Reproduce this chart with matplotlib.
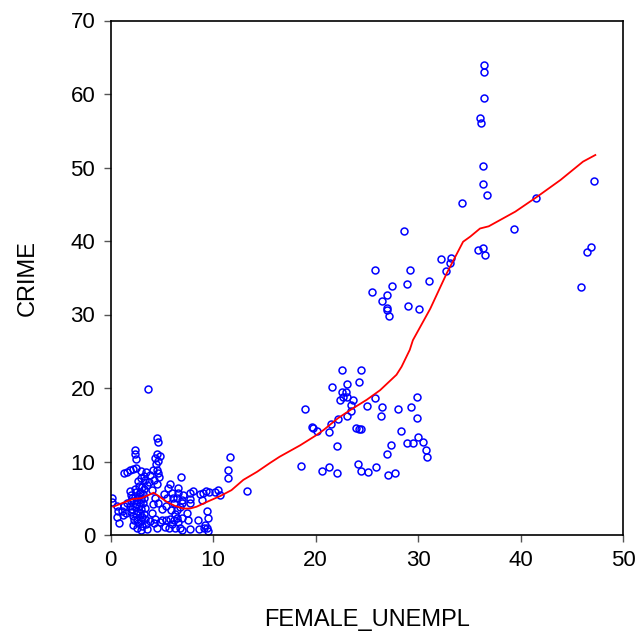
import matplotlib
matplotlib.use("Agg")
import matplotlib.pyplot as plt

# scatter data: (FEMALE_UNEMPL, CRIME)
cluster_pts = [
    (0.1,5.0),(0.15,4.5),(0.6,3.9),(0.75,3.2),(0.6,2.5),(0.8,1.6),(1.1,3.3),(1.2,2.7),(1.5,3.0),(1.3,4.0),(1.6,4.4),
    (1.3,8.4),(1.6,8.6),(1.9,8.8),(2.2,9.0),(2.5,9.1),
    (2.4,11.6),(2.35,11.0),(2.5,10.4),
    (1.9,6.0),(2.0,5.5),(2.1,5.0),(2.0,4.6),(1.9,4.0),(2.1,3.6),(2.0,3.1),(2.2,2.6),(2.3,2.0),(2.2,1.3),
    (2.4,6.3),(2.5,5.8),(2.4,5.2),(2.6,4.8),(2.5,4.2),(2.4,3.8),(2.6,3.3),(2.5,2.8),(2.6,2.2),(2.7,1.6),(2.6,1.0),
    (2.8,6.6),(2.9,5.9),(2.8,5.3),(3.0,4.9),(2.9,4.4),(2.8,3.9),(3.0,3.5),(2.9,3.0),(3.1,2.5),(3.0,1.9),(3.1,1.2),(3.0,0.7),
    (3.2,5.6),(3.3,5.0),(3.2,4.3),(3.4,3.7),(3.3,2.9),(3.4,2.2),(3.5,1.5),(3.6,0.8),
    (3.3,6.2),(3.1,6.5),
    (2.7,7.3),(3.0,7.7),(3.4,7.5),(3.8,7.2),(4.2,7.5),(4.5,7.0),(3.6,6.8),
    (3.0,8.7),(3.5,8.6),(3.9,8.2),(4.1,8.9),(3.3,8.0),
    (4.5,13.2),(4.65,12.6),(4.5,11.0),(4.8,10.8),(4.3,10.5),(4.6,10.1),(4.4,9.6),(4.5,8.9),(4.6,8.4),(4.7,7.9),
    (4.0,6.1),(4.3,5.0),(4.1,4.2),(4.6,4.3),(4.0,3.0),(4.3,2.2),(4.2,1.6),(4.5,1.0),(3.9,1.9),(4.8,1.8),
    (5.0,2.0),(5.4,2.1),(5.8,2.2),(6.2,2.0),(6.5,2.3),(5.3,1.1),(5.7,0.9),(6.0,1.5),(6.3,0.9),(6.8,1.0),
    (5.2,5.6),(5.5,5.0),(5.6,6.4),(5.0,3.6),(5.4,4.0),(5.8,6.9),(6.0,5.7),(6.1,5.0),(6.2,4.3),(5.9,3.4),
    (6.6,6.35),(6.6,5.7),(6.46,5.0),(6.8,3.85),(6.46,3.4),(7.1,5.4),(7.0,4.8),(6.95,4.3),(6.85,7.85),(6.95,2.3),(7.0,0.7),(6.6,1.8),(6.3,2.9),
    (8.0,6.0),(7.76,5.7),(7.76,4.86),(7.8,4.4),(7.6,2.1),(7.8,0.8),(7.5,3.0),
    (8.73,5.6),(9.0,5.75),(9.3,6.0),(9.64,5.9),(9.38,3.3),(9.55,2.3),(8.57,2.1),(8.66,0.8),(9.2,1.4),(9.4,0.9),(9.5,0.6),(9.1,1.0),(8.9,4.7),
    (10.46,6.1),(10.7,5.4),(11.66,10.6),(11.5,8.9),(11.43,7.7),(13.3,6.0),(10.2,5.8),
    (3.69,19.9),
]
mid_pts = [
    (22.6,22.5),(24.4,22.5),(24.2,20.8),(23.1,20.5),(21.6,20.1),(22.6,19.4),(23.0,19.4),(22.7,18.8),(23.1,18.8),
    (22.4,18.4),(23.7,18.3),(23.5,17.7),(23.5,16.9),(25.05,17.6),(25.8,18.7),(26.5,17.4),(26.4,16.2),(28.05,17.2),
    (29.3,17.4),(29.9,18.8),(29.9,15.9),(18.98,17.2),(23.1,16.2),(22.2,15.8),(21.5,15.1),(19.7,14.7),(19.8,14.5),
    (20.1,14.1),(21.3,14.0),(23.95,14.5),(24.2,14.4),(24.4,14.4),(28.3,14.1),(29.97,13.4),(30.5,12.7),(28.96,12.5),
    (29.5,12.5),(30.8,11.5),(30.9,10.65),(27.4,12.2),(27.0,11.0),(22.07,12.15),(18.55,9.4),(20.6,8.7),(21.3,9.2),
    (22.07,8.4),(24.1,9.6),(24.4,8.7),(25.1,8.6),(25.9,9.2),(27.04,8.1),(27.76,8.4),
]
upper_pts = [
    (28.6,41.3),(25.8,36.0),(29.2,36.0),(27.5,33.9),(28.96,34.1),(31.1,34.6),(25.5,33.0),(27.0,32.7),(26.5,31.8),
    (27.0,30.9),(27.0,30.6),(27.2,29.8),(29.05,31.2),(30.1,30.8),
    (32.2,37.5),(33.2,37.7),(33.1,37.0),(32.7,35.9),
    (36.4,63.9),(36.4,63.0),(36.4,59.5),(36.0,56.7),(36.15,56.1),(36.3,50.2),(36.3,47.7),(36.7,46.2),(34.3,45.2),
    (41.5,45.9),(47.2,48.2),(39.4,41.7),(35.9,38.8),(36.3,39.1),(36.5,38.1),(46.9,39.2),(46.5,38.5),(45.9,33.7),
]
female_unempl = [p[0] for p in cluster_pts + mid_pts + upper_pts]
crime = [p[1] for p in cluster_pts + mid_pts + upper_pts]

# nonparametric fit line
fit_x = [0.27,1.25,2.2,3.0,3.5,4.2,4.7,5.5,6.3,7.1,7.76,8.4,9.4,10.7,11.8,12.96,14.3,15.56,16.5,18.5,20.1,20.8,
         22.2,23.5,25.0,26.3,27.9,28.4,29.2,29.5,31.2,32.8,34.4,35.1,36.05,36.9,39.5,41.6,43.9,46.1,47.3]
fit_y = [3.85,4.4,4.9,5.0,5.3,5.75,5.3,4.5,3.95,3.6,3.6,3.85,4.5,5.3,6.1,7.5,8.6,9.8,10.65,12.2,13.6,14.3,
         15.9,17.1,18.4,19.7,21.8,22.9,25.2,26.5,30.8,35.6,39.9,40.6,41.7,42.0,44.0,46.0,48.3,50.8,51.7]

x_ticks = [0, 10, 20, 30, 40, 50]
y_ticks = [0, 10, 20, 30, 40, 50, 60, 70]

plt.rcParams['font.family'] = ['Liberation Sans', 'DejaVu Sans']
fig = plt.figure(figsize=(6.35, 6.33), dpi=100)
ax = fig.add_axes([110.5/635, (633-535)/633, (623-110.5)/635, (535-20.5)/633])

ax.plot(female_unempl, crime, linestyle='none', marker='o', markersize=5.0,
        markerfacecolor='none', markeredgecolor='#0000ff', markeredgewidth=1.1)
ax.plot(fit_x, fit_y, color='#ff0000', linewidth=1.3)

ax.set_xlim(0, 50)
ax.set_ylim(0, 70)
ax.set_xticks(x_ticks)
ax.set_yticks(y_ticks)
ax.tick_params(direction='out', length=5, width=1, color='#555555', labelsize=16, pad=6)
for s in ax.spines.values():
    s.set_linewidth(1.2)
    s.set_color('black')
ax.set_xlabel('FEMALE_UNEMPL', fontsize=17, labelpad=27)
ax.set_ylabel('CRIME', fontsize=17, labelpad=23)

fig.savefig('out.png', dpi=100)
